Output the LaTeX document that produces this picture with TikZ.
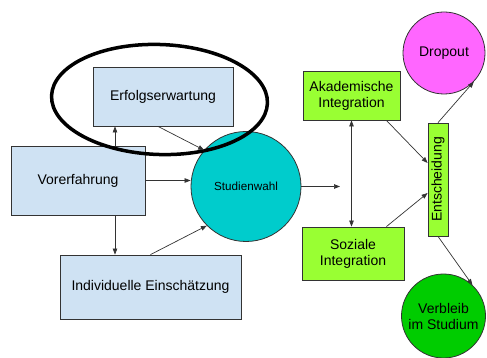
\documentclass[tikz,border=0pt]{standalone}
\usepackage{fontspec}
\setmainfont{Liberation Sans}
\usepackage{graphicx}
\usetikzlibrary{arrows.meta,shapes.geometric}

\definecolor{boxblue}{HTML}{CFE2F3}
\definecolor{wahlcyan}{HTML}{00CCCC}
\definecolor{intlime}{HTML}{99FF33}
\definecolor{dropmag}{HTML}{FF66FF}
\definecolor{stayg}{HTML}{00CC00}
\definecolor{edge}{HTML}{333333}

\tikzset{
  base/.style={draw=edge, line width=0.8pt, inner sep=0pt, align=center,
    font=\fontsize{14}{16}\selectfont},
  bluebox/.style={base, rectangle, fill=boxblue},
  limebox/.style={base, rectangle, fill=intlime},
  roundnode/.style={base, circle},
  arr/.style={draw=edge, line width=0.7pt, -{Triangle[length=6pt,width=4.5pt]}},
  dblarr/.style={draw=edge, line width=0.7pt,
    {Triangle[length=6pt,width=4.5pt]}-{Triangle[length=6pt,width=4.5pt]}},
  mark ring/.style={draw=black, line width=3.5pt, ellipse, fill=none}
}

\begin{document}
\begin{tikzpicture}[x=1pt,y=-1pt]
  \useasboundingbox (0,0) rectangle (487,358);

  % left part: inputs to the choice of study
  \node[bluebox, minimum width=140pt, minimum height=59pt] (erf) at (163,96.5) {Erfolgserwartung};
  \node[bluebox, minimum width=134pt, minimum height=69pt] (vor) at (78,180.5) {Vorerfahrung};
  \node[bluebox, minimum width=181pt, minimum height=64pt] (ind) at (150.5,287) {Individuelle Einschätzung};
  \node[roundnode, fill=wahlcyan, minimum size=110pt,
        font=\fontsize{11.7}{14}\selectfont] (stu) at (246,186.5) {Studienwahl};

  % right part: integration and decision
  \node[limebox, minimum width=97pt, minimum height=49pt] (aka) at (351.5,95.5) {Akademische\\Integration};
  \node[limebox, minimum width=102pt, minimum height=53pt] (soz) at (353,253.5) {Soziale\\Integration};
  \node[limebox, minimum width=20pt, minimum height=113pt] (ent) at (438,179.5) {\rotatebox{90}{Entscheidung}};
  \node[roundnode, fill=dropmag, minimum size=82pt] (drop) at (444,53) {Dropout};
  \node[roundnode, fill=stayg, minimum size=84pt] (verb) at (443.5,316) {Verbleib\\im Studium};

  % emphasis ring around the expectation box
  \node[mark ring, rotate=-2, minimum width=216pt, minimum height=110pt] (ring) at (159.5,99.5) {};

  \coordinate (out) at (340,186.5);

  % connectors
  \draw[arr] ([xshift=37pt]vor.north) -- ([xshift=37pt]vor.north |- erf.south);
  \draw[arr] ([xshift=-5pt]erf.south) -- (stu.139);
  \draw[arr] (vor.east) -- (stu.west |- vor.east);
  \draw[arr] ([xshift=37pt]vor.south) -- ([xshift=37pt]vor.south |- ind.north);
  \draw[arr] (ind.north) -- (stu.225);
  \draw[arr] (stu.east) -- (out);
  \draw[dblarr] (aka.south) -- (aka.south |- soz.north);
  \draw[arr] ([xshift=-14pt]aka.south east) -- ([yshift=16.5pt]ent.west);
  \draw[arr] ([xshift=-18pt]soz.north east) -- ([yshift=-13.5pt]ent.west);
  \draw[arr] (ent.north) -- (drop.-44);
  \draw[arr] (ent.south) -- (verb.47);
\end{tikzpicture}
\end{document}
